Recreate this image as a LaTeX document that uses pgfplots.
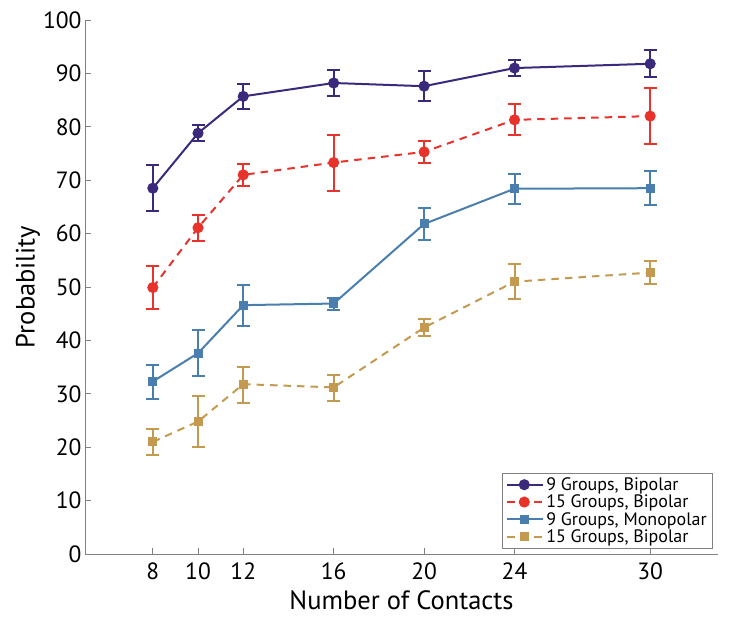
\documentclass[border=0pt]{standalone}
\usepackage{pgfplots}
\pgfplotsset{compat=1.18}
\usepackage{pgfplotstable}
\usepackage{fontspec}
\setmainfont{PT Sans}
\definecolor{cpur}{HTML}{3B2A7C}
\definecolor{cred}{HTML}{E8322C}
\definecolor{cblu}{HTML}{4A7EAE}
\definecolor{ctan}{HTML}{C39A4F}
\definecolor{axgray}{HTML}{808080}
\pgfplotstableread{
x y ep em
8 68.5 4.3 4.3
10 78.8 1.6 1.5
12 85.7 2.3 2.3
16 88.2 2.4 2.4
20 87.6 2.8 2.8
24 91.0 1.5 1.5
30 91.8 2.5 2.5
}\tpur
\pgfplotstableread{
x y ep em
8 49.9 4.1 4.1
10 61.1 2.4 2.4
12 71.0 2.1 2.1
16 73.3 5.2 5.4
20 75.3 2.1 2.1
24 81.3 2.9 2.9
30 82.0 5.3 5.2
}\tred
\pgfplotstableread{
x y ep em
8 32.3 3.0 3.2
10 37.6 4.3 4.3
12 46.6 3.8 3.9
16 46.9 1.1 1.3
20 61.8 3.0 3.0
24 68.4 2.8 2.8
30 68.5 3.3 3.1
}\tblu
\pgfplotstableread{
x y ep em
8 21.0 2.5 2.5
10 24.8 4.8 4.8
12 31.8 3.3 3.5
16 31.2 2.4 2.5
20 42.4 1.6 1.6
24 51.0 3.3 3.3
30 52.7 2.1 2.2
}\ttan
\begin{document}
\begin{tikzpicture}
\begin{axis}[
  name=ax,
  scale only axis,
  width=633pt, height=534pt,
  xmin=5, xmax=33, ymin=0, ymax=100,
  axis x line*=bottom, axis y line*=left,
  axis line style={axgray, line width=0.8pt, -},
  xtick={8,10,12,16,20,24,30},
  ytick={0,10,...,100},
  tick style={axgray, line width=0.8pt},
  major tick length=6pt,
  tick align=inside,
  /pgf/number format/assume math mode=true,
  ticklabel style={font=\fontsize{23.5}{28}\selectfont, text=black},
  xticklabel style={yshift=-5pt},
  xlabel={Number of Contacts},
  ylabel={Probability},
  label style={font=\fontsize{26.5}{30}\selectfont},
  xlabel style={yshift=-4pt},
  ylabel style={yshift=-4pt},
  legend style={at={(0.992,0.011)}, anchor=south east, draw=axgray, line width=0.6pt,
    font=\fontsize{18}{20}\selectfont, row sep=-1pt, inner xsep=4pt, inner ysep=2pt},
  legend cell align=left,
  legend image code/.code={%
    \draw[mark repeat=2,mark phase=2] plot coordinates {(0pt,0pt) (17pt,0pt) (34pt,0pt)};
    \path (0pt,0pt) -- (36pt,0pt);},
  every axis plot/.append style={line width=2pt},
  error bars/error mark options={rotate=90, mark size=6.5pt, line width=2pt},
  error bars/error bar style={line width=2pt, solid},
]
\addplot[cpur, mark=*, mark size=4.5pt, mark options={solid},
  error bars/.cd, y dir=both, y explicit]
  table[x=x, y=y, y error plus=ep, y error minus=em]{\tpur};
\addlegendentry{9 Groups, Bipolar}
\addplot[cred, dash pattern=on 7.5pt off 6pt, mark=*, mark size=4.5pt, mark options={solid},
  error bars/.cd, y dir=both, y explicit]
  table[x=x, y=y, y error plus=ep, y error minus=em]{\tred};
\addlegendentry{15 Groups, Bipolar}
\addplot[cblu, mark=square*, mark size=3.5pt, mark options={solid},
  error bars/.cd, y dir=both, y explicit]
  table[x=x, y=y, y error plus=ep, y error minus=em]{\tblu};
\addlegendentry{9 Groups, Monopolar}
\addplot[ctan, dash pattern=on 7.5pt off 6pt, mark=square*, mark size=3.5pt, mark options={solid},
  error bars/.cd, y dir=both, y explicit]
  table[x=x, y=y, y error plus=ep, y error minus=em]{\ttan};
\addlegendentry{15 Groups, Bipolar}
\end{axis}
\path (ax.south west) ++(-85pt,-63pt) coordinate (bl);
\path (ax.north east) ++(11pt,20pt) coordinate (tr);
\path[use as bounding box] (bl) rectangle (tr);
\end{tikzpicture}
\end{document}
